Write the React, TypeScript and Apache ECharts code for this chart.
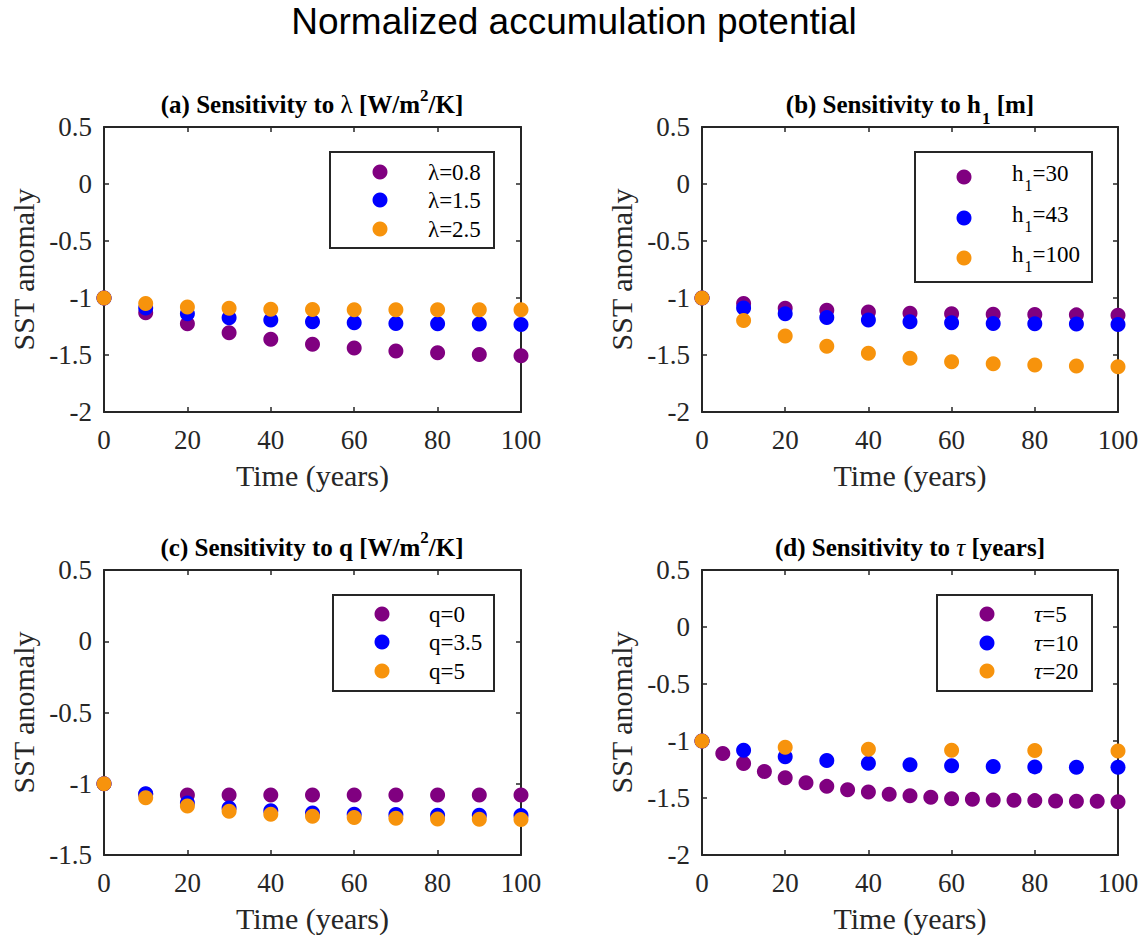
import React, { useEffect, useRef } from "react";
import * as echarts from "echarts";

// Time axes (years)
const years10 = [0, 10, 20, 30, 40, 50, 60, 70, 80, 90, 100];
const years5 = [0, 5, 10, 15, 20, 25, 30, 35, 40, 45, 50, 55, 60, 65, 70, 75, 80, 85, 90, 95, 100];
const years20 = [0, 20, 40, 60, 80, 100];

// (a) feedback parameter lambda
const lambda08 = [-1, -1.13, -1.225, -1.304, -1.362, -1.406, -1.438, -1.464, -1.481, -1.496, -1.507];
const lambda15 = [-1, -1.087, -1.139, -1.174, -1.194, -1.209, -1.217, -1.223, -1.226, -1.229, -1.232];
const lambda25 = [-1, -1.049, -1.078, -1.09, -1.099, -1.101, -1.104, -1.104, -1.104, -1.104, -1.104];

// (b) mixed-layer depth h1
const h30 = [-1, -1.049, -1.09, -1.107, -1.122, -1.133, -1.139, -1.142, -1.145, -1.148, -1.151];
const h43 = [-1, -1.087, -1.139, -1.171, -1.194, -1.209, -1.217, -1.223, -1.226, -1.229, -1.232];
const h100 = [-1, -1.197, -1.333, -1.423, -1.484, -1.528, -1.559, -1.577, -1.588, -1.597, -1.603];

// (c) q
const q0 = [-1, -1.074, -1.079, -1.079, -1.079, -1.079, -1.079, -1.079, -1.079, -1.079, -1.079];
const q35 = [-1, -1.07, -1.135, -1.17, -1.19, -1.205, -1.214, -1.216, -1.221, -1.221, -1.223];
const q5 = [-1, -1.098, -1.156, -1.193, -1.214, -1.228, -1.237, -1.242, -1.247, -1.249, -1.251];

// (d) timescale tau
const tau5 = [-1, -1.11, -1.198, -1.267, -1.323, -1.366, -1.398, -1.427, -1.448, -1.468, -1.48, -1.494, -1.506, -1.512, -1.517, -1.52, -1.523, -1.526, -1.529, -1.529, -1.532];
const tau10 = [-1, -1.081, -1.139, -1.171, -1.195, -1.209, -1.218, -1.224, -1.227, -1.23, -1.23];
const tau20 = [-1, -1.055, -1.073, -1.081, -1.084, -1.087];

const yTicksAll = { min: -2, max: 0.5, interval: 0.5 };
const yTicksC = { min: -1.5, max: 0.5, interval: 0.5 };

const PURPLE = "#800080";
const BLUE = "#0000FF";
const ORANGE = "#F7930C";
const AXIS = "#262626";
const SERIF = '"Liberation Serif", "Times New Roman", serif';

const grids = [
  { left: 104, top: 127, width: 417, height: 285 },
  { left: 702, top: 127, width: 416, height: 285 },
  { left: 104, top: 570, width: 417, height: 285 },
  { left: 702, top: 570, width: 416, height: 285 },
];

function pairs(xs: number[], ys: number[]) {
  return xs.map((x, i) => [x, ys[i]]);
}

function buildOption() {
  const axisLine = { show: true, onZero: false, lineStyle: { color: AXIS, width: 2 } };
  const axisTick = { show: true, inside: true, length: 5, lineStyle: { color: AXIS, width: 1.5 } };
  const labelStyle = { fontFamily: SERIF, fontSize: 27, color: AXIS };
  const nameStyle = { fontFamily: SERIF, fontSize: 30, color: AXIS };

  const xAxis: any[] = [];
  const yAxis: any[] = [];
  grids.forEach((_, i) => {
    const yr = i === 2 ? yTicksC : yTicksAll;
    xAxis.push({
      gridIndex: i, type: "value", min: 0, max: 100, interval: 20, position: "bottom",
      axisLine, axisTick, splitLine: { show: false },
      axisLabel: { ...labelStyle, margin: 14, showMinLabel: true, showMaxLabel: true },
      name: "Time (years)", nameLocation: "middle", nameGap: 48, nameTextStyle: nameStyle,
    });
    xAxis.push({
      gridIndex: i, type: "value", min: 0, max: 100, interval: 20, position: "top",
      axisLine, axisTick, splitLine: { show: false }, axisLabel: { show: false },
    });
    yAxis.push({
      gridIndex: i, type: "value", ...yr, position: "left",
      axisLine, axisTick, splitLine: { show: false },
      axisLabel: { ...labelStyle, margin: 12, showMinLabel: true, showMaxLabel: true },
      name: "SST anomaly", nameLocation: "middle", nameGap: 66, nameTextStyle: nameStyle,
    });
    yAxis.push({
      gridIndex: i, type: "value", ...yr, position: "right",
      axisLine, axisTick, splitLine: { show: false }, axisLabel: { show: false },
    });
  });

  const scatter = (name: string, panel: number, xs: number[], ys: number[], color: string, z: number) => ({
    name, type: "scatter", xAxisIndex: panel * 2, yAxisIndex: panel * 2,
    data: pairs(xs, ys), symbol: "circle", symbolSize: 15, clip: false, z,
    itemStyle: { color, opacity: 1 },
  });

  const series = [
    scatter("λ=0.8", 0, years10, lambda08, PURPLE, 2),
    scatter("λ=1.5", 0, years10, lambda15, BLUE, 3),
    scatter("λ=2.5", 0, years10, lambda25, ORANGE, 4),
    scatter("h1=30", 1, years10, h30, PURPLE, 2),
    scatter("h1=43", 1, years10, h43, BLUE, 3),
    scatter("h1=100", 1, years10, h100, ORANGE, 4),
    scatter("q=0", 2, years10, q0, PURPLE, 2),
    scatter("q=3.5", 2, years10, q35, BLUE, 3),
    scatter("q=5", 2, years10, q5, ORANGE, 4),
    scatter("τ=5", 3, years5, tau5, PURPLE, 2),
    scatter("τ=10", 3, years10, tau10, BLUE, 3),
    scatter("τ=20", 3, years20, tau20, ORANGE, 4),
  ];

  // rich-text styles for titles and legend labels; sub/superscripts are
  // shifted with asymmetric padding inside a middle-aligned line
  const tB = { fontFamily: SERIF, fontSize: 25, fontWeight: "bold", fill: "#000" };
  const tN = { fontFamily: SERIF, fontSize: 25, fontWeight: "normal", fill: "#000" };
  const tI = { fontFamily: SERIF, fontSize: 25, fontStyle: "italic", fontWeight: "normal", fill: "#000" };
  const sup = { fontFamily: SERIF, fontSize: 17, fontWeight: "bold", fill: "#000", padding: [0, 0, 19, 0] };
  const subB = { fontFamily: SERIF, fontSize: 17, fontWeight: "bold", fill: "#000", padding: [28, 0, 0, 1] };
  const lN = { fontFamily: SERIF, fontSize: 23, fill: "#000" };
  const lI = { fontFamily: SERIF, fontSize: 23, fontStyle: "italic", fill: "#000" };
  const lSub = { fontFamily: SERIF, fontSize: 16, fill: "#000", padding: [25, 0, 0, 1] };
  const rich = { tB, tN, tI, sup, subB, lN, lI, lSub };

  const text = (x: number, y: number, t: string, align = "center") => ({
    type: "text", x, y, z: 100,
    style: { text: t, align, verticalAlign: "middle", rich },
  });

  const legendBox = (x: number, y: number, w: number, h: number) => ({
    type: "rect", shape: { x, y, width: w, height: h }, z: 50,
    style: { fill: "#fff", stroke: AXIS, lineWidth: 2 },
  });
  const dot = (x: number, y: number, color: string) => ({
    type: "circle", shape: { cx: x, cy: y, r: 7.5 }, z: 60, style: { fill: color },
  });

  const graphic: any[] = [
    {
      type: "text", x: 574, y: 21, z: 100,
      style: {
        text: "Normalized accumulation potential", align: "center", verticalAlign: "middle",
        fontFamily: '"Liberation Sans", Arial, sans-serif', fontSize: 37, fill: "#000",
      },
    },
    // panel titles
    text(312, 104.5, "{tB|(a) Sensitivity to }{tN|λ}{tB| [W/m}{sup|2}{tB|/K]}"),
    text(910, 104, "{tB|(b) Sensitivity to h}{subB|1}{tB| [m]}"),
    text(312, 547, "{tB|(c) Sensitivity to q [W/m}{sup|2}{tB|/K]}"),
    text(910, 547, "{tB|(d) Sensitivity to }{tI|τ}{tB| [years]}"),

    // legend (a)
    legendBox(330, 152, 164, 96),
    dot(380, 172, PURPLE), dot(380, 200, BLUE), dot(380, 229, ORANGE),
    text(428, 172, "{lN|λ=0.8}", "left"),
    text(428, 200, "{lN|λ=1.5}", "left"),
    text(428, 229, "{lN|λ=2.5}", "left"),

    // legend (b)
    legendBox(915, 152, 177, 130),
    dot(964, 177, PURPLE), dot(964, 218, BLUE), dot(964, 258, ORANGE),
    text(1012, 173, "{lN|h}{lSub|1}{lN|=30}", "left"),
    text(1012, 214, "{lN|h}{lSub|1}{lN|=43}", "left"),
    text(1012, 254, "{lN|h}{lSub|1}{lN|=100}", "left"),

    // legend (c)
    legendBox(333, 595, 161, 96),
    dot(382, 614, PURPLE), dot(382, 642, BLUE), dot(382, 671, ORANGE),
    text(429, 614, "{lN|q=0}", "left"),
    text(429, 642, "{lN|q=3.5}", "left"),
    text(429, 671, "{lN|q=5}", "left"),

    // legend (d)
    legendBox(937, 595, 155, 96),
    dot(987, 614, PURPLE), dot(987, 643, BLUE), dot(987, 671, ORANGE),
    text(1034, 614, "{lI|τ}{lN|=5}", "left"),
    text(1034, 643, "{lI|τ}{lN|=10}", "left"),
    text(1034, 671, "{lI|τ}{lN|=20}", "left"),
  ];

  return {
    animation: false,
    backgroundColor: "#ffffff",
    grid: grids.map((g) => ({ ...g, containLabel: false })),
    xAxis,
    yAxis,
    series,
    graphic,
  };
}

export default function App() {
  const ref = useRef<HTMLDivElement>(null);
  useEffect(() => {
    if (!ref.current) return;
    const chart = echarts.init(ref.current, undefined, { renderer: "svg" });
    chart.setOption(buildOption() as any);
    return () => chart.dispose();
  }, []);
  return (
    <div
      ref={ref}
      style={{ position: "fixed", left: 0, top: 0, width: 1148, height: 938, background: "#fff" }}
    />
  );
}
